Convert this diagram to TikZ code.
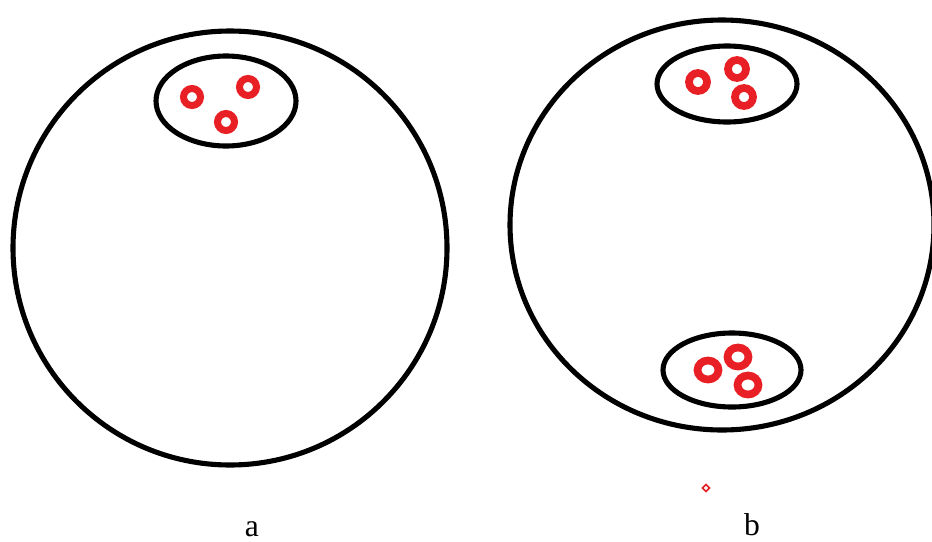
\documentclass[tikz,border=0pt]{standalone}
\usepackage{fontspec}
\setmainfont{Liberation Serif}
\usetikzlibrary{positioning}
\definecolor{ringred}{RGB}{232,32,38}
\tikzset{
  cell/.style={draw=black,line width=2.9pt},
  vesicle/.style={draw=black,line width=2.9pt},
  granule/.style={draw=ringred,line width=4pt},
  bigranule/.style={draw=ringred,line width=4.4pt},
  tag/.style={font=\fontsize{18}{20}\selectfont,anchor=base,inner sep=0pt}
}

\begin{document}
\begin{tikzpicture}[x=0.02cm,y=-0.02cm]
  \useasboundingbox (0,0) rectangle (932,541);
  \clip (0,0) rectangle (932,541);
  % cell a
  \draw[cell] (230,248) ellipse (217 and 217);
  \draw[vesicle] (226,101) ellipse (70 and 45);
  \draw[granule] (192,97) circle (8.5);
  \draw[granule] (248,87) circle (8.5);
  \draw[granule] (226,122) circle (8.5);
  % cell b
  \draw[cell] (722,225) ellipse (212 and 205);
  \draw[vesicle] (727,84) ellipse (70 and 38);
  \draw[bigranule] (698,82) circle (9);
  \draw[bigranule] (737,69) circle (9);
  \draw[bigranule] (744,97) circle (9);
  \draw[vesicle] (732,370) ellipse (69 and 37);
  \draw[bigranule] (708,370) ellipse (10.5 and 9.5);
  \draw[bigranule] (738,357) ellipse (10.5 and 9.5);
  \draw[bigranule] (748,385) ellipse (10.5 and 9.5);
  \draw[ringred,line width=0.9pt] (706,484.5) -- (709.5,488) -- (706,491.5) -- (702.5,488) -- cycle;
  % labels
  \node[tag] (taga) at (252,536) {a};
  \node[tag] (tagb) at (752,535) {b};
\end{tikzpicture}
\end{document}
